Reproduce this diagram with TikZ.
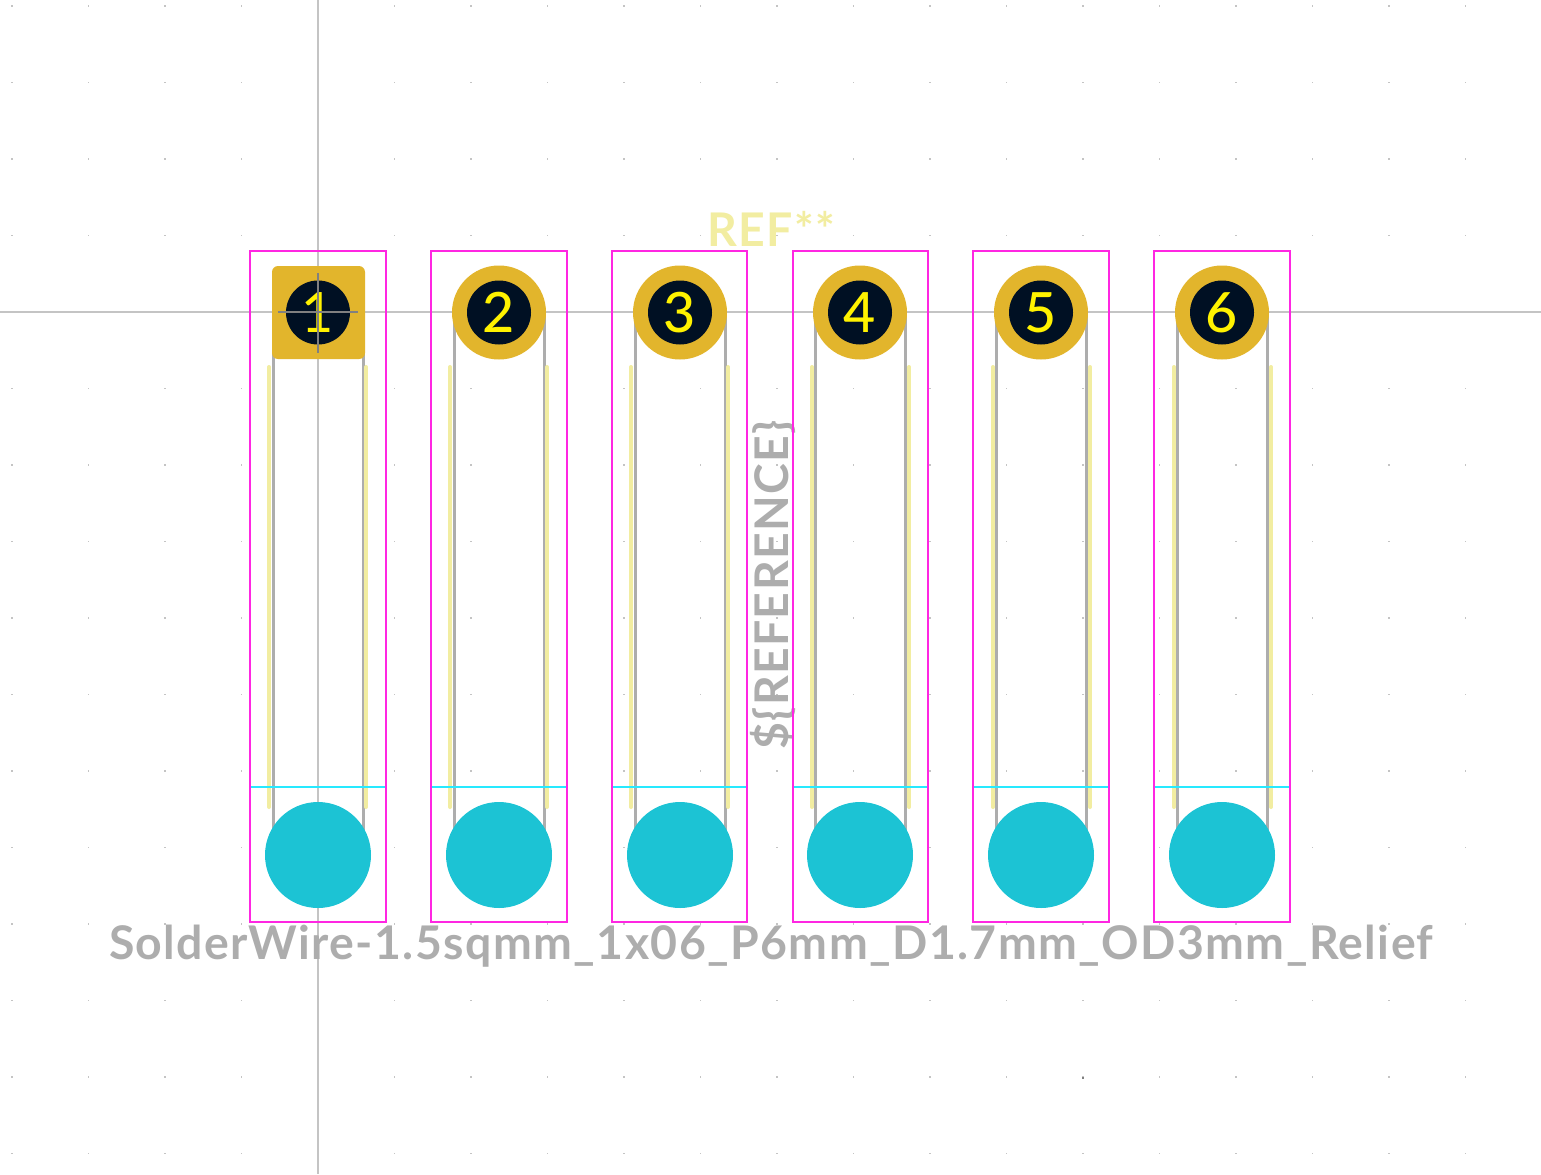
\documentclass[tikz,border=0pt]{standalone}
\usepackage{fontspec}
\setmainfont{Lato}
\newfontfamily\silkfont[LetterSpace=3]{Lato Bold}
\newfontfamily\digitfont{Lato Medium}
\definecolor{padgold}{HTML}{E2B52C}
\definecolor{holenavy}{HTML}{001023}
\definecolor{silkcream}{HTML}{F2EDA1}
\definecolor{fabgray}{HTML}{ADADAD}
\definecolor{crtmagenta}{HTML}{FF26E2}
\definecolor{userteal}{HTML}{1CC3D4}
\definecolor{usercyan}{HTML}{26E9FF}
\definecolor{crossgray}{HTML}{C4C4C4}
\tikzset{
  fabline/.style={draw=fabgray, line width=0.15cm},
  silkline/.style={draw=silkcream, line width=0.2cm, line cap=round},
  crtbox/.style={draw=crtmagenta, line width=0.12cm},
  cyanline/.style={draw=usercyan, line width=0.11cm},
  crossline/.style={draw=crossgray, line width=0.06cm},
  padround/.style={circle, fill=padgold, inner sep=0, minimum size=4.7cm},
  padsquare/.style={rectangle, rounded corners=0.3cm, fill=padgold, inner sep=0, minimum size=4.65cm},
  holedrill/.style={circle, fill=holenavy, text=yellow, inner sep=0, minimum size=3.2cm,
    font=\digitfont\fontsize{79}{79}\selectfont},
  tealdot/.style={circle, fill=userteal, inner sep=0, minimum size=5.3cm},
  griddot/.style={fill=crossgray},
  gridlabel/.style={text=fabgray, inner sep=0, font=\silkfont\fontsize{66}{66}\selectfont}
}
\begin{document}
\begin{tikzpicture}[x=0.05cm, y=-0.05cm]
  \useasboundingbox[fill=white] (0,0) rectangle (1541,1174);
  % grid
  \foreach \i in {-4,...,15} {
    \foreach \j in {-4,...,11} {
      \fill[griddot] ({318+\i*76.5-0.75},{312+\j*76.5-0.75}) rectangle ++(1.5,1.5);
    }
  }
  \fill[gray] (1082,1077) rectangle ++(2,2);
  % cross hair
  \draw[crossline] (318,0) -- (318,1174);
  \draw[crossline] (0,312) -- (1541,312);
  % texts
  \node[gridlabel, rotate=90] (reference) at (773,585) {\$\{REFERENCE\}};
  \node[gridlabel, text=silkcream] (refname) at (771,229) {REF**};
  \node[gridlabel] (valuename) at (771,946) {SolderWire-1.5sqmm\_1x06\_P6mm\_D1.7mm\_OD3mm\_Relief};
  % the six wires
  \foreach \n/\cx/\sx/\lx/\rx in {1/318.5/317.5/250/386,2/499.5/498.5/431/567,3/680.5/679.5/612/747,4/860.5/860.5/793/928,5/1041.5/1041.5/973/1109,6/1222.5/1222.5/1154/1290} {
    \draw[fabline] (\cx-45,312) -- (\cx-45,855);
    \draw[fabline] (\cx+45,312) -- (\cx+45,855);
    \draw[silkline] (\sx-48.5,367) -- (\sx-48.5,807);
    \draw[silkline] (\sx+48.5,367) -- (\sx+48.5,807);
    \draw[cyanline] (\lx+1,787) -- (\rx-1,787);
    \draw[crtbox] (\lx,251) rectangle (\rx,922);
    \node[tealdot] (relief\n) at (\cx-0.5,855) {};
  }
  \node[padsquare] (pad1) at (318.5,312.5) {};
  \foreach \n/\cx in {2/499,3/680,4/860,5/1041,6/1222} {
    \node[padround] (pad\n) at (\cx,312.5) {};
  }
  \foreach \n/\cx in {1/318,2/499,3/680,4/860,5/1041,6/1222} {
    \node[holedrill] (hole\n) at (\cx,312.5) {\n};
  }
  % anchor mark
  \draw[crossline, draw=gray] (278,312) -- (358,312);
  \draw[crossline, draw=gray] (318,273) -- (318,353);
\end{tikzpicture}
\end{document}
